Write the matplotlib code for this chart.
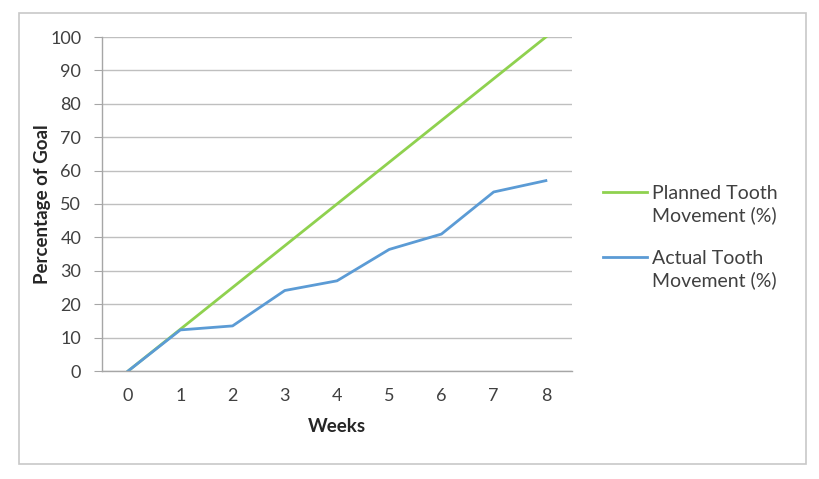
import matplotlib.pyplot as plt
from matplotlib.patches import Rectangle
from matplotlib.transforms import ScaledTranslation

# Données
semaines = [0, 1, 2, 3, 4, 5, 6, 7, 8]
prevu = [0, 12.5, 25, 37.5, 50, 62.5, 75, 87.5, 100]
reel = [0, 12.3, 13.5, 24.1, 27.0, 36.4, 41.0, 53.6, 57.0]
etiquettes_y = [0, 10, 20, 30, 40, 50, 60, 70, 80, 90, 100]

vert = '#8fd14f'
bleu = '#5b9bd5'

plt.rcParams['font.family'] = ['Lato', 'DejaVu Sans']

fig = plt.figure(figsize=(8.2, 4.79), dpi=100)
ax = fig.add_axes([102 / 820, 1 - 371 / 479, 470 / 820, 334 / 479])

# Cadre extérieur
fig.patches.append(Rectangle((19 / 820, 1 - 464 / 479), 787 / 820, 451 / 479,
                             transform=fig.transFigure, fill=False,
                             edgecolor='#c8c8c8', linewidth=1.2))

ax.plot(semaines, prevu, color=vert, linewidth=2, label='Planned Tooth\nMovement (%)')
ax.plot(semaines, reel, color=bleu, linewidth=2, label='Actual Tooth\nMovement (%)')

ax.set_xlim(-0.5, 8.5)
ax.set_ylim(0, 100)
ax.set_xticks(semaines)
ax.set_yticks(etiquettes_y)
ax.tick_params(axis='x', length=0, labelsize=13, colors='#404040', pad=12)
ax.tick_params(axis='y', length=6, width=0.8, color='#a6a6a6', labelsize=13,
               labelcolor='#404040', pad=9)

ax.grid(True, axis='y', color='#bfbfbf', linewidth=1)
ax.set_axisbelow(True)
for cote in ['top', 'right']:
    ax.spines[cote].set_visible(False)
for cote in ['left', 'bottom']:
    ax.spines[cote].set_color('#a6a6a6')
    ax.spines[cote].set_linewidth(1)

ax.set_xlabel('Weeks', fontsize=13.5, fontweight='bold', color='#262626', labelpad=10)
ax.set_ylabel('Percentage of Goal', fontsize=13.5, fontweight='bold', color='#262626', labelpad=-1)

leg = ax.legend(loc='center left', bbox_to_anchor=(603 / 820, 1 - 237 / 479),
                bbox_transform=fig.transFigure, frameon=False, fontsize=14,
                handlelength=2.25, handletextpad=0.25, labelspacing=1.3,
                borderpad=0, borderaxespad=0, labelcolor='#404040')
for t in leg.get_texts():
    t.set_linespacing(1.3)
# poignée remontée au niveau de la première ligne du libellé
decalage = ScaledTranslation(0, 0.13, fig.dpi_scale_trans)
for ligne in leg.get_lines():
    ligne.set_transform(ligne.get_transform() + decalage)

fig.savefig('out.png', dpi=100)
